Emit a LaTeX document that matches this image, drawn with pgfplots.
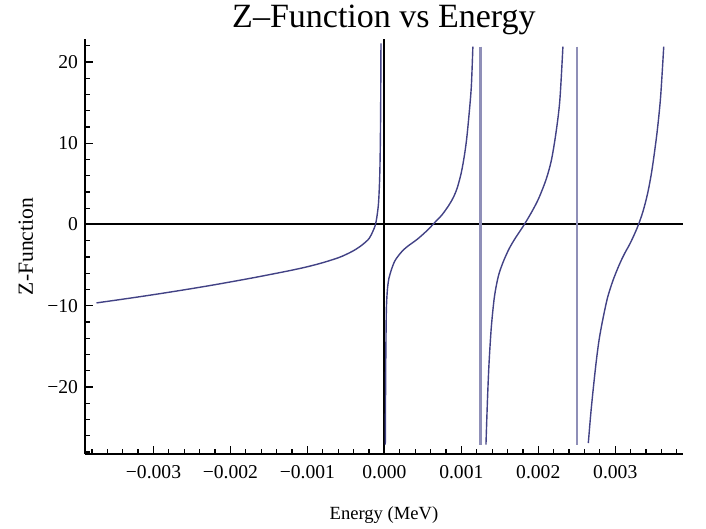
\documentclass[border=0pt]{standalone}
\usepackage{fontspec}
\setmainfont{Liberation Serif}
\usepackage{pgfplots}
\pgfplotsset{compat=1.18}
\definecolor{curve}{rgb}{0.26,0.26,0.52}
\definecolor{jump}{rgb}{0.56,0.56,0.72}
\newcommand{\tickfont}{\fontsize{9.8}{11}\selectfont}
\begin{document}
\begin{tikzpicture}
\begin{axis}[
  scale only axis,
  width=299pt, height=207.5pt,
  xmin=-0.00389, xmax=0.00388,
  ymin=-28.25, ymax=22.83,
  axis x line*=bottom, axis y line*=left,
  axis line style={-, line width=0.7pt},
  clip=false,
  scaled x ticks=false,
  xtick={-0.003,-0.002,-0.001,0,0.001,0.002,0.003},
  xticklabels={−0.003,−0.002,−0.001,0.000,0.001,0.002,0.003},
  minor xtick={-0.0038,-0.0036,-0.0034,-0.0032,-0.0028,-0.0026,-0.0024,-0.0022,
    -0.0018,-0.0016,-0.0014,-0.0012,-0.0008,-0.0006,-0.0004,-0.0002,
    0.0002,0.0004,0.0006,0.0008,0.0012,0.0014,0.0016,0.0018,
    0.0022,0.0024,0.0026,0.0028,0.0032,0.0034,0.0036,0.0038},
  ytick={-20,-10,0,10,20},
  yticklabels={−20,−10,0,10,20},
  minor ytick={-28,-26,-24,-22,-18,-16,-14,-12,-8,-6,-4,-2,2,4,6,8,12,14,16,18,22},
  major tick length=4pt, minor tick length=2.3pt,
  every tick/.style={black, line width=0.6pt},
  tick label style={font=\tickfont},
  xticklabel style={anchor=base, yshift=-12pt},
  title={Z–Function vs Energy},
  title style={font=\fontsize{17}{20}\selectfont, inner sep=0pt, at={(0.5,1)}, anchor=base, yshift=0pt},
  xlabel={Energy (MeV)},
  xlabel style={font=\fontsize{9.3}{11}\selectfont, inner sep=0pt, at={(axis description cs:0.5,0)}, anchor=base, yshift=-32.5pt},
  ylabel={Z-Function},
  ylabel style={font=\fontsize{10.8}{12}\selectfont, inner sep=0pt, at={(axis description cs:-0.087,0.5)}, anchor=base},
]
% bounding box matching the reference canvas
\path (rel axis cs:-0.1421,-0.1807) rectangle (rel axis cs:1.0385,1.094);

% axes through the origin
\addplot[black, line width=1pt] coordinates {(-0.00389,0) (0.00388,0)};
\addplot[black, line width=1pt] coordinates {(0,-28.25) (0,22.83)};

% jumps between branches
\addplot[jump, line width=1.2pt] coordinates {(0.001247,21.9) (0.001247,-27.1)};
\addplot[jump, line width=1.2pt] coordinates {(0.0025,21.9) (0.0025,-27.1)};

% branch 1
\addplot[curve, line width=0.7pt, smooth] coordinates {
  (-0.00374,-9.65) (-0.0035,-9.33) (-0.0032,-8.92) (-0.0029,-8.49) (-0.0026,-8.04)
  (-0.0023,-7.57) (-0.0020,-7.07) (-0.0017,-6.55) (-0.0014,-6.0) (-0.0012,-5.62)
  (-0.0010,-5.2) (-0.0008,-4.7) (-0.0006,-4.1) (-0.0005,-3.7) (-0.0004,-3.22)
  (-0.0003,-2.6) (-0.0002,-1.75) (-0.00015,-0.85) (-0.00012,-0.15) (-0.0001,0.75)
  (-0.00008,2.2) (-0.00007,3.6) (-0.00006,6.0) (-0.000053,9.5) (-0.000048,14.5)
  (-0.000044,22.3)};

% branch 2
\addplot[curve, line width=0.7pt, smooth] coordinates {
  (0.000012,-27.1) (0.000016,-20) (0.00002,-15) (0.000026,-10.5) (0.000035,-8.6)
  (0.000045,-7.5) (0.00006,-6.6) (0.00009,-5.6) (0.00013,-4.6) (0.00017,-4.0)
  (0.00023,-3.3) (0.0003,-2.7) (0.00043,-1.8) (0.00056,-0.7) (0.00065,0.2)
  (0.00075,1.2) (0.00084,2.4) (0.0009,3.4) (0.00095,4.6) (0.001,6.4)
  (0.00104,8.5) (0.00107,10.6) (0.0011,13.5) (0.00113,17) (0.00115,21.9)};

% branch 3
\addplot[curve, line width=0.7pt, smooth] coordinates {
  (0.00132,-27.1) (0.00134,-21.5) (0.00136,-17.1) (0.00139,-12.6) (0.00143,-8.9)
  (0.00148,-6.4) (0.00154,-4.7) (0.00162,-3.0) (0.0017,-1.7) (0.0018,-0.27)
  (0.0019,1.3) (0.002,3.1) (0.0021,5.5) (0.00217,7.9) (0.00223,11.3)
  (0.00228,15.3) (0.00232,21.9)};

% branch 4
\addplot[curve, line width=0.7pt, smooth] coordinates {
  (0.00265,-26.9) (0.00268,-23.5) (0.00271,-20.6) (0.00275,-17.1) (0.00279,-14.2)
  (0.00284,-11.6) (0.0029,-9.0) (0.00297,-6.9) (0.00305,-5.0) (0.00312,-3.6)
  (0.0032,-2.2) (0.00329,-0.3) (0.00336,1.6) (0.00342,3.8) (0.00347,6.3)
  (0.00351,8.9) (0.00355,11.9) (0.00359,15.8) (0.00363,21.9)};
\end{axis}
\end{tikzpicture}
\end{document}
